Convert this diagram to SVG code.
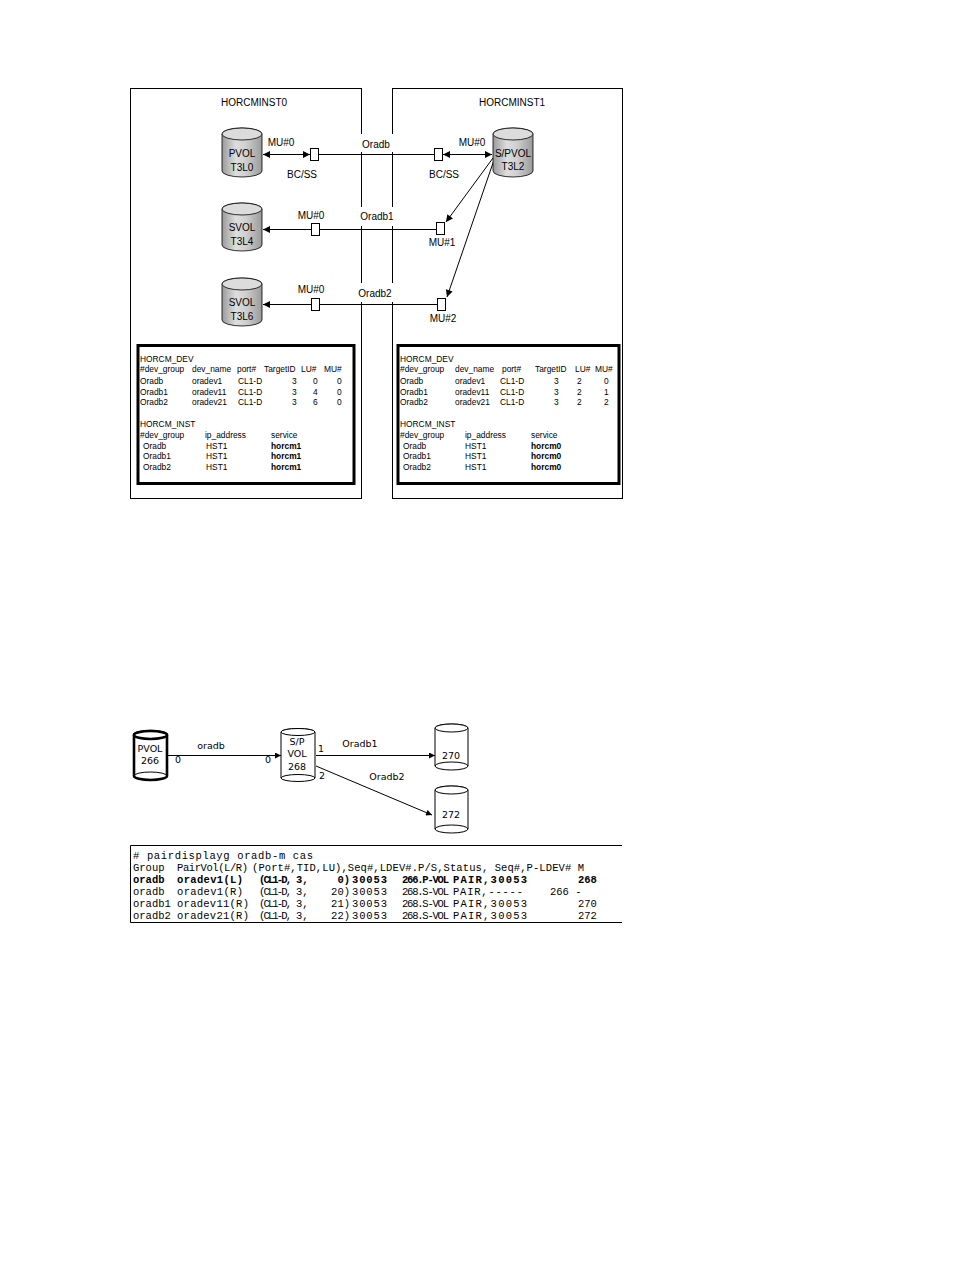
<svg xmlns="http://www.w3.org/2000/svg" width="954" height="1270" viewBox="0 0 954 1270">
<style>
.t{font-family:"Liberation Sans",Arial,sans-serif;fill:#000}
.s10{font-size:10px}
.tb{font-family:"Liberation Sans",Arial,sans-serif;font-size:8.4px;fill:#000}
.b{font-weight:bold}
.box{fill:#fff;stroke:#000;stroke-width:1}
.ln{stroke:#000;stroke-width:1;fill:none}
.cyl{fill:url(#gb);stroke:#000;stroke-width:0.8}
.cyt{fill:#dcdcdc;stroke:#000;stroke-width:0.8}
.inner{fill:none;stroke:#000;stroke-width:3}
.cw{fill:#fff;stroke:#000;stroke-width:1}
.cwt{fill:#fff;stroke:#000;stroke-width:2.6}
.code{font-family:"Liberation Mono","Courier New",monospace;font-size:10.5px;fill:#000}
.bm{font-family:"DejaVu Sans","Liberation Sans",sans-serif;font-size:9.5px;fill:#000}
</style>
<defs>
<linearGradient id="gb" x1="0" y1="0" x2="1" y2="0">
<stop offset="0" stop-color="#9a9a9a"/>
<stop offset="0.35" stop-color="#dedede"/>
<stop offset="0.6" stop-color="#cfcfcf"/>
<stop offset="1" stop-color="#9a9a9a"/>
</linearGradient>
<marker id="ah" viewBox="0 0 10 10" refX="10" refY="5" markerWidth="8" markerHeight="7" markerUnits="userSpaceOnUse" orient="auto-start-reverse">
<path d="M0,0 L10,5 L0,10 z" fill="#000"/>
</marker>
<marker id="ahs" viewBox="0 0 10 10" refX="10" refY="5" markerWidth="7" markerHeight="6" markerUnits="userSpaceOnUse" orient="auto">
<path d="M0,0 L10,5 L0,10 z" fill="#000"/>
</marker>
</defs>

<g id="horcminst0">
<rect class="box" x="130.5" y="88.5" width="231" height="410"/>
<text class="t s10" x="254" y="106" text-anchor="middle">HORCMINST0</text>
</g>
<g id="horcminst1">
<rect class="box" x="392.5" y="88.5" width="230" height="410"/>
<text class="t s10" x="512" y="106" text-anchor="middle">HORCMINST1</text>
</g>

<g id="label-bg">
<rect x="355" y="134" width="42" height="18" fill="#fff"/>
<rect x="355" y="207" width="42" height="19" fill="#fff"/>
<rect x="355" y="283" width="42" height="19" fill="#fff"/>
</g>

<g id="connectors">
<line class="ln" x1="318" y1="154.5" x2="435" y2="154.5"/>
<line class="ln" x1="319" y1="229.5" x2="437" y2="229.5"/>
<line class="ln" x1="319" y1="304.5" x2="437" y2="304.5"/>
<line class="ln" x1="263" y1="154.5" x2="310" y2="154.5" marker-start="url(#ah)" marker-end="url(#ah)"/>
<line class="ln" x1="443" y1="154.5" x2="492" y2="154.5" marker-start="url(#ah)" marker-end="url(#ah)"/>
<line class="ln" x1="311" y1="229.5" x2="263" y2="229.5" marker-end="url(#ah)"/>
<line class="ln" x1="311" y1="304.5" x2="263" y2="304.5" marker-end="url(#ah)"/>
<line class="ln" x1="493" y1="158" x2="446" y2="222" marker-end="url(#ah)"/>
<line class="ln" x1="494" y1="160" x2="447" y2="297" marker-end="url(#ah)"/>
<text class="t s10" x="376" y="148" text-anchor="middle">Oradb</text>
<text class="t s10" x="377" y="220" text-anchor="middle">Oradb1</text>
<text class="t s10" x="375" y="297" text-anchor="middle">Oradb2</text>
<text class="t s10" x="281" y="146" text-anchor="middle">MU#0</text>
<text class="t s10" x="302" y="178" text-anchor="middle">BC/SS</text>
<text class="t s10" x="472" y="146" text-anchor="middle">MU#0</text>
<text class="t s10" x="444" y="178" text-anchor="middle">BC/SS</text>
<text class="t s10" x="311" y="219" text-anchor="middle">MU#0</text>
<text class="t s10" x="311" y="293" text-anchor="middle">MU#0</text>
<text class="t s10" x="442" y="246" text-anchor="middle">MU#1</text>
<text class="t s10" x="443" y="322" text-anchor="middle">MU#2</text>
</g>

<g id="port-boxes">
<rect class="box" x="310.5" y="148.5" width="8" height="12"/>
<rect class="box" x="434.5" y="148.5" width="8" height="12"/>
<rect class="box" x="311.5" y="223.5" width="8" height="12"/>
<rect class="box" x="436.5" y="222.5" width="8" height="12"/>
<rect class="box" x="311.5" y="298.5" width="8" height="12"/>
<rect class="box" x="437.5" y="298.5" width="8" height="12"/>
</g>

<g id="pvol-t3l0">
<path class="cyl" d="M222,134 V171 A20,6 0 0 0 262,171 V134 A20,6 0 0 0 222,134 Z"/>
<ellipse class="cyt" cx="242" cy="134" rx="20" ry="6"/>
<text class="t s10" x="242" y="157" text-anchor="middle">PVOL</text>
<text class="t s10" x="242" y="171" text-anchor="middle">T3L0</text>
</g>
<g id="svol-t3l4">
<path class="cyl" d="M222,209 V245 A20,6 0 0 0 262,245 V209 A20,6 0 0 0 222,209 Z"/>
<ellipse class="cyt" cx="242" cy="209" rx="20" ry="6"/>
<text class="t s10" x="242" y="231" text-anchor="middle">SVOL</text>
<text class="t s10" x="242" y="245" text-anchor="middle">T3L4</text>
</g>
<g id="svol-t3l6">
<path class="cyl" d="M222,284 V320 A20,6 0 0 0 262,320 V284 A20,6 0 0 0 222,284 Z"/>
<ellipse class="cyt" cx="242" cy="284" rx="20" ry="6"/>
<text class="t s10" x="242" y="306" text-anchor="middle">SVOL</text>
<text class="t s10" x="242" y="320" text-anchor="middle">T3L6</text>
</g>
<g id="spvol-t3l2">
<path class="cyl" d="M493,134 V171 A20,6 0 0 0 533,171 V134 A20,6 0 0 0 493,134 Z"/>
<ellipse class="cyt" cx="513" cy="134" rx="20" ry="6"/>
<text class="t s10" x="513" y="157" text-anchor="middle">S/PVOL</text>
<text class="t s10" x="513" y="170" text-anchor="middle">T3L2</text>
</g>

<g id="table-inst0">
<rect class="inner" x="138" y="345.5" width="216" height="138"/>
<text class="tb" x="140" y="362">HORCM_DEV</text>
<text class="tb" x="140" y="372">#dev_group</text><text class="tb" x="192" y="372">dev_name</text><text class="tb" x="237" y="372">port#</text><text class="tb" x="264" y="372">TargetID</text><text class="tb" x="301" y="372">LU#</text><text class="tb" x="324" y="372">MU#</text>
<text class="tb" x="140" y="384">Oradb</text><text class="tb" x="192" y="384">oradev1</text><text class="tb" x="238" y="384">CL1-D</text><text class="tb" x="292" y="384">3</text><text class="tb" x="313" y="384">0</text><text class="tb" x="337" y="384">0</text>
<text class="tb" x="140" y="395">Oradb1</text><text class="tb" x="192" y="395">oradev11</text><text class="tb" x="238" y="395">CL1-D</text><text class="tb" x="292" y="395">3</text><text class="tb" x="313" y="395">4</text><text class="tb" x="337" y="395">0</text>
<text class="tb" x="140" y="405">Oradb2</text><text class="tb" x="192" y="405">oradev21</text><text class="tb" x="238" y="405">CL1-D</text><text class="tb" x="292" y="405">3</text><text class="tb" x="313" y="405">6</text><text class="tb" x="337" y="405">0</text>
<text class="tb" x="140" y="427">HORCM_INST</text>
<text class="tb" x="140" y="438">#dev_group</text><text class="tb" x="205" y="438">ip_address</text><text class="tb" x="271" y="438">service</text>
<text class="tb" x="143" y="449">Oradb</text><text class="tb" x="206" y="449">HST1</text><text class="tb b" x="271" y="449">horcm1</text>
<text class="tb" x="143" y="459">Oradb1</text><text class="tb" x="206" y="459">HST1</text><text class="tb b" x="271" y="459">horcm1</text>
<text class="tb" x="143" y="470">Oradb2</text><text class="tb" x="206" y="470">HST1</text><text class="tb b" x="271" y="470">horcm1</text>
</g>

<g id="table-inst1">
<rect class="inner" x="398" y="345.5" width="221" height="138"/>
<text class="tb" x="400" y="362">HORCM_DEV</text>
<text class="tb" x="400" y="372">#dev_group</text><text class="tb" x="455" y="372">dev_name</text><text class="tb" x="502" y="372">port#</text><text class="tb" x="535" y="372">TargetID</text><text class="tb" x="575" y="372">LU#</text><text class="tb" x="595" y="372">MU#</text>
<text class="tb" x="400" y="384">Oradb</text><text class="tb" x="455" y="384">oradev1</text><text class="tb" x="500" y="384">CL1-D</text><text class="tb" x="554" y="384">3</text><text class="tb" x="577" y="384">2</text><text class="tb" x="604" y="384">0</text>
<text class="tb" x="400" y="395">Oradb1</text><text class="tb" x="455" y="395">oradev11</text><text class="tb" x="500" y="395">CL1-D</text><text class="tb" x="554" y="395">3</text><text class="tb" x="577" y="395">2</text><text class="tb" x="604" y="395">1</text>
<text class="tb" x="400" y="405">Oradb2</text><text class="tb" x="455" y="405">oradev21</text><text class="tb" x="500" y="405">CL1-D</text><text class="tb" x="554" y="405">3</text><text class="tb" x="577" y="405">2</text><text class="tb" x="604" y="405">2</text>
<text class="tb" x="400" y="427">HORCM_INST</text>
<text class="tb" x="400" y="438">#dev_group</text><text class="tb" x="465" y="438">ip_address</text><text class="tb" x="531" y="438">service</text>
<text class="tb" x="403" y="449">Oradb</text><text class="tb" x="465" y="449">HST1</text><text class="tb b" x="531" y="449">horcm0</text>
<text class="tb" x="403" y="459">Oradb1</text><text class="tb" x="465" y="459">HST1</text><text class="tb b" x="531" y="459">horcm0</text>
<text class="tb" x="403" y="470">Oradb2</text><text class="tb" x="465" y="470">HST1</text><text class="tb b" x="531" y="470">horcm0</text>
</g>

<g id="bottom-connectors">
<line class="ln" x1="168" y1="755.5" x2="281" y2="755.5" marker-end="url(#ahs)"/>
<line class="ln" x1="316" y1="755.5" x2="435" y2="755.5" marker-end="url(#ahs)"/>
<line class="ln" x1="316" y1="766" x2="432" y2="815" marker-end="url(#ahs)"/>
<text class="bm" x="211" y="749" text-anchor="middle">oradb</text>
<text class="bm" x="178" y="763" text-anchor="middle">0</text>
<text class="bm" x="268" y="763" text-anchor="middle">0</text>
<text class="bm" x="321" y="752" text-anchor="middle">1</text>
<text class="bm" x="360" y="747" text-anchor="middle">Oradb1</text>
<text class="bm" x="322" y="779" text-anchor="middle">2</text>
<text class="bm" x="387" y="780" text-anchor="middle">Oradb2</text>
</g>

<g id="pvol-266">
<path class="cwt" d="M134,735 V776 A16.5,4 0 0 0 167,776 V735 A16.5,4 0 0 0 134,735 Z"/>
<ellipse class="cwt" cx="150.5" cy="735" rx="16.5" ry="4"/>
<path class="ln" stroke-width="2.6" d="M134,776 A16.5,4 0 0 1 167,776"/>
<text class="bm" x="150" y="752" text-anchor="middle">PVOL</text>
<text class="bm" x="150" y="764" text-anchor="middle">266</text>
</g>
<g id="spvol-268">
<path class="cw" d="M281,732 V778 A17,3.5 0 0 0 315,778 V732 A17,3.5 0 0 0 281,732 Z"/>
<ellipse class="cw" cx="298" cy="732" rx="17" ry="3.5"/>
<path class="ln" d="M281,778 A17,3.5 0 0 1 315,778"/>
<text class="bm" x="297" y="745" text-anchor="middle">S/P</text>
<text class="bm" x="297" y="757" text-anchor="middle">VOL</text>
<text class="bm" x="297" y="770" text-anchor="middle">268</text>
</g>
<g id="vol-270">
<path class="cw" d="M435,728 V766 A16.5,4 0 0 0 468,766 V728 A16.5,4 0 0 0 435,728 Z"/>
<ellipse class="cw" cx="451.5" cy="728" rx="16.5" ry="4"/>
<path class="ln" d="M435,766 A16.5,4 0 0 1 468,766"/>
<text class="bm" x="451" y="759" text-anchor="middle">270</text>
</g>
<g id="vol-272">
<path class="cw" d="M435,790 V829 A16.5,4 0 0 0 468,829 V790 A16.5,4 0 0 0 435,790 Z"/>
<ellipse class="cw" cx="451.5" cy="790" rx="16.5" ry="4"/>
<path class="ln" d="M435,829 A16.5,4 0 0 1 468,829"/>
<text class="bm" x="451" y="818" text-anchor="middle">272</text>
</g>

<g id="pairdisplay-output">
<path class="ln" d="M622,845.5 H130.5 V922.5 H622"/>
<text class="code" x="133" y="859" textLength="180" lengthAdjust="spacing"># pairdisplayg oradb-m cas</text>
<text class="code" x="133" y="871">Group</text>
<text class="code" x="177" y="871" textLength="71" lengthAdjust="spacing">PairVol(L/R)</text>
<text class="code" x="252" y="871" textLength="332" lengthAdjust="spacing">(Port#,TID,LU),Seq#,LDEV#.P/S,Status, Seq#,P-LDEV# M</text>
<g font-weight="bold">
<text class="code" x="133" y="883">oradb</text>
<text class="code" x="177" y="883" textLength="66" lengthAdjust="spacing">oradev1(L)</text>
<text class="code" x="259" y="883" textLength="33" lengthAdjust="spacing">(CL1-D,</text>
<text class="code" x="296" y="883">3,</text>
<text class="code" x="350" y="883" text-anchor="end">0)</text>
<text class="code" x="352" y="883" textLength="35" lengthAdjust="spacing">30053</text>
<text class="code" x="402" y="883" textLength="47" lengthAdjust="spacing">266.P-VOL</text>
<text class="code" x="453" y="883" textLength="74" lengthAdjust="spacing">PAIR,30053</text>
<text class="code" x="578" y="883">268</text>
</g>
<text class="code" x="133" y="895">oradb</text>
<text class="code" x="177" y="895" textLength="66" lengthAdjust="spacing">oradev1(R)</text>
<text class="code" x="259" y="895" textLength="33" lengthAdjust="spacing">(CL1-D,</text>
<text class="code" x="296" y="895">3,</text>
<text class="code" x="350" y="895" text-anchor="end">20)</text>
<text class="code" x="352" y="895" textLength="35" lengthAdjust="spacing">30053</text>
<text class="code" x="402" y="895" textLength="47" lengthAdjust="spacing">268.S-VOL</text>
<text class="code" x="453" y="895" textLength="70" lengthAdjust="spacing">PAIR,-----</text>
<text class="code" x="550" y="895">266 -</text>
<text class="code" x="133" y="907">oradb1</text>
<text class="code" x="177" y="907" textLength="72" lengthAdjust="spacing">oradev11(R)</text>
<text class="code" x="259" y="907" textLength="33" lengthAdjust="spacing">(CL1-D,</text>
<text class="code" x="296" y="907">3,</text>
<text class="code" x="350" y="907" text-anchor="end">21)</text>
<text class="code" x="352" y="907" textLength="35" lengthAdjust="spacing">30053</text>
<text class="code" x="402" y="907" textLength="47" lengthAdjust="spacing">268.S-VOL</text>
<text class="code" x="453" y="907" textLength="74" lengthAdjust="spacing">PAIR,30053</text>
<text class="code" x="578" y="907">270</text>
<text class="code" x="133" y="919">oradb2</text>
<text class="code" x="177" y="919" textLength="72" lengthAdjust="spacing">oradev21(R)</text>
<text class="code" x="259" y="919" textLength="33" lengthAdjust="spacing">(CL1-D,</text>
<text class="code" x="296" y="919">3,</text>
<text class="code" x="350" y="919" text-anchor="end">22)</text>
<text class="code" x="352" y="919" textLength="35" lengthAdjust="spacing">30053</text>
<text class="code" x="402" y="919" textLength="47" lengthAdjust="spacing">268.S-VOL</text>
<text class="code" x="453" y="919" textLength="74" lengthAdjust="spacing">PAIR,30053</text>
<text class="code" x="578" y="919">272</text>
</g>
</svg>
